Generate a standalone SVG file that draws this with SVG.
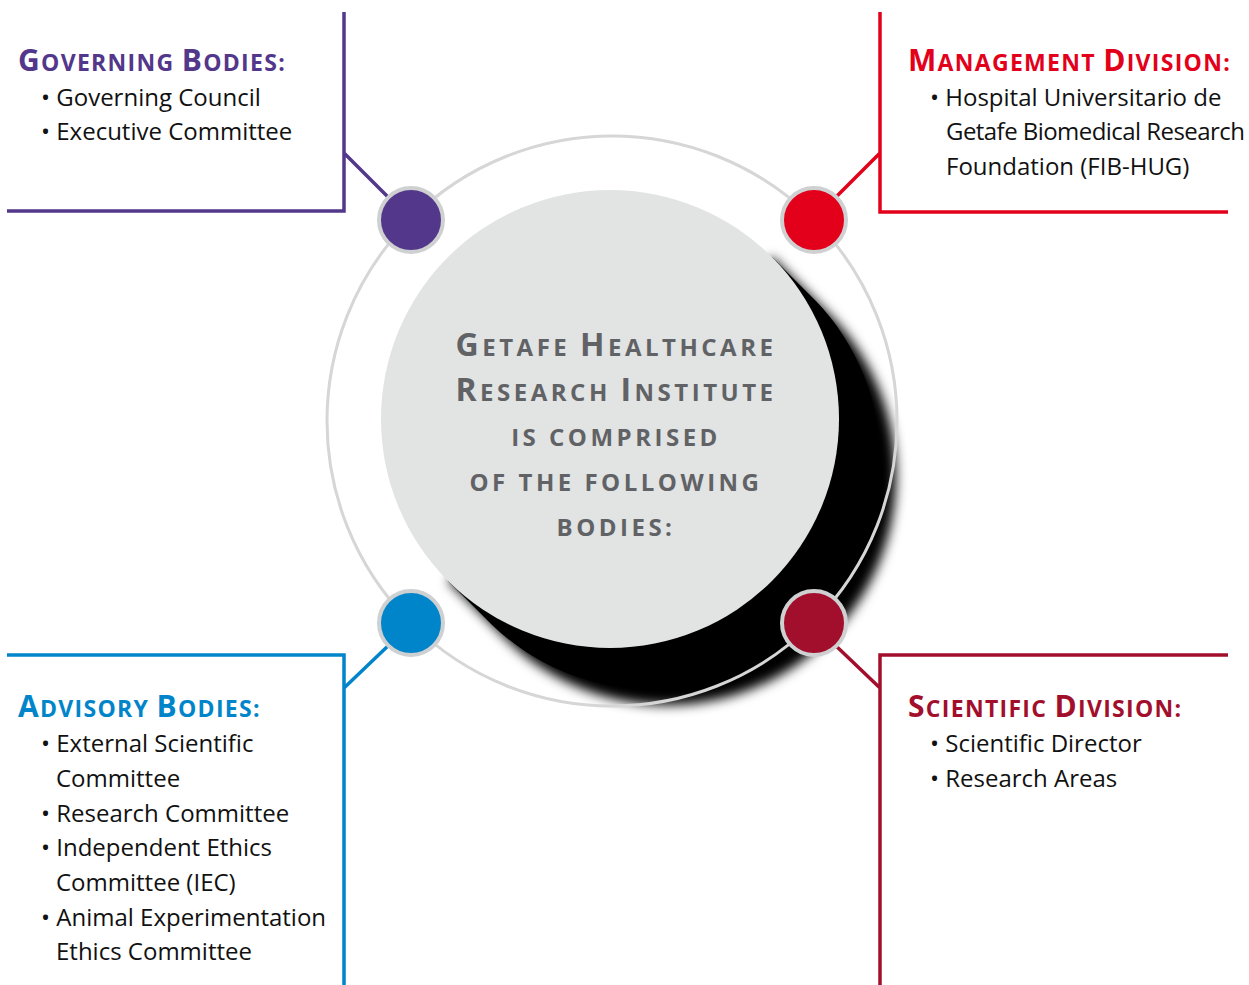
<svg xmlns="http://www.w3.org/2000/svg" width="1249" height="985" viewBox="0 0 1249 985">
<style>
.conn{fill:none;stroke-width:3.5}
.h{font-family:"Open Sans","Noto Sans",sans-serif;font-weight:700;font-size:23px;letter-spacing:1.3px}
.cap{font-size:30px}
.b{font-family:"Open Sans","Noto Sans",sans-serif;font-size:24px;fill:#111}
.c{font-family:"Open Sans","Noto Sans",sans-serif;font-weight:700;font-size:24px;fill:#616265;letter-spacing:3.5px;text-anchor:middle}
.ccap{font-size:32px}
.dot{stroke:#cfd0d1;stroke-width:4}
</style>
<defs>
<filter id="blur" x="-20%" y="-20%" width="140%" height="140%"><feGaussianBlur stdDeviation="6"/></filter>
</defs>
<rect width="1249" height="985" fill="#fff"/>
<g id="connectors">
<path class="conn" stroke="#52378a" d="M344,12 V211 H7 M344,153 L390,199"/>
<path class="conn" stroke="#e3001b" d="M880,12 V212 H1228 M880,153 L834,199"/>
<path class="conn" stroke="#0085ca" d="M7,655 H344 V985 M344,688 L390,644"/>
<path class="conn" stroke="#a20f2c" d="M1228,655 H880 V985 M880,688 L834,644"/>
</g>
<g id="center">
<path filter="url(#blur)" fill="#000" d="M771.9,257.1 L831.9,317.1 A229,229 0 0 1 508.1,640.9 L448.1,580.9 Z"/>
<path fill="#000" d="M771.9,257.1 L815.9,301.1 A229,229 0 0 1 492.1,624.9 L448.1,580.9 Z"/>
<circle cx="612" cy="421" r="285" fill="none" stroke="#d6d6d6" stroke-width="3"/>
<circle cx="610" cy="419" r="229" fill="#e2e3e3"/>
<text class="c" x="616" y="356"><tspan class="ccap">G</tspan>ETAFE <tspan class="ccap">H</tspan>EALTHCARE</text>
<text class="c" x="616" y="401"><tspan class="ccap">R</tspan>ESEARCH <tspan class="ccap">I</tspan>NSTITUTE</text>
<text class="c" x="616" y="446">IS COMPRISED</text>
<text class="c" x="616" y="491">OF THE FOLLOWING</text>
<text class="c" x="616" y="536">BODIES:</text>
</g>
<g id="governing">
<circle class="dot" cx="411" cy="220" r="32" fill="#52378a"/>
<text class="h" x="18" y="71" fill="#52378a"><tspan class="cap">G</tspan>OVERNING <tspan class="cap">B</tspan>ODIES:</text>
<text class="b" x="41" y="106">• Governing Council</text>
<text class="b" x="41" y="140">• Executive Committee</text>
</g>
<g id="management">
<circle class="dot" cx="814" cy="220" r="32" fill="#e3001b"/>
<text class="h" x="908" y="71" fill="#e3001b"><tspan class="cap">M</tspan>ANAGEMENT <tspan class="cap">D</tspan>IVISION:</text>
<text class="b" x="930" y="106">• Hospital Universitario de</text>
<text class="b" x="946" y="140" letter-spacing="-0.55">Getafe Biomedical Research</text>
<text class="b" x="946" y="175">Foundation (FIB-HUG)</text>
</g>
<g id="advisory">
<circle class="dot" cx="411" cy="623" r="32" fill="#0085ca"/>
<text class="h" x="18" y="717" fill="#0085ca"><tspan class="cap">A</tspan>DVISORY <tspan class="cap">B</tspan>ODIES:</text>
<text class="b" x="41" y="752">• External Scientific</text>
<text class="b" x="56" y="787">Committee</text>
<text class="b" x="41" y="822">• Research Committee</text>
<text class="b" x="41" y="856">• Independent Ethics</text>
<text class="b" x="56" y="891">Committee (IEC)</text>
<text class="b" x="41" y="926">• Animal Experimentation</text>
<text class="b" x="56" y="960">Ethics Committee</text>
</g>
<g id="scientific">
<circle class="dot" cx="814" cy="623" r="32" fill="#a20f2c"/>
<text class="h" x="908" y="717" fill="#a20f2c"><tspan class="cap">S</tspan>CIENTIFIC <tspan class="cap">D</tspan>IVISION:</text>
<text class="b" x="930" y="752">• Scientific Director</text>
<text class="b" x="930" y="787">• Research Areas</text>
</g>
</svg>
